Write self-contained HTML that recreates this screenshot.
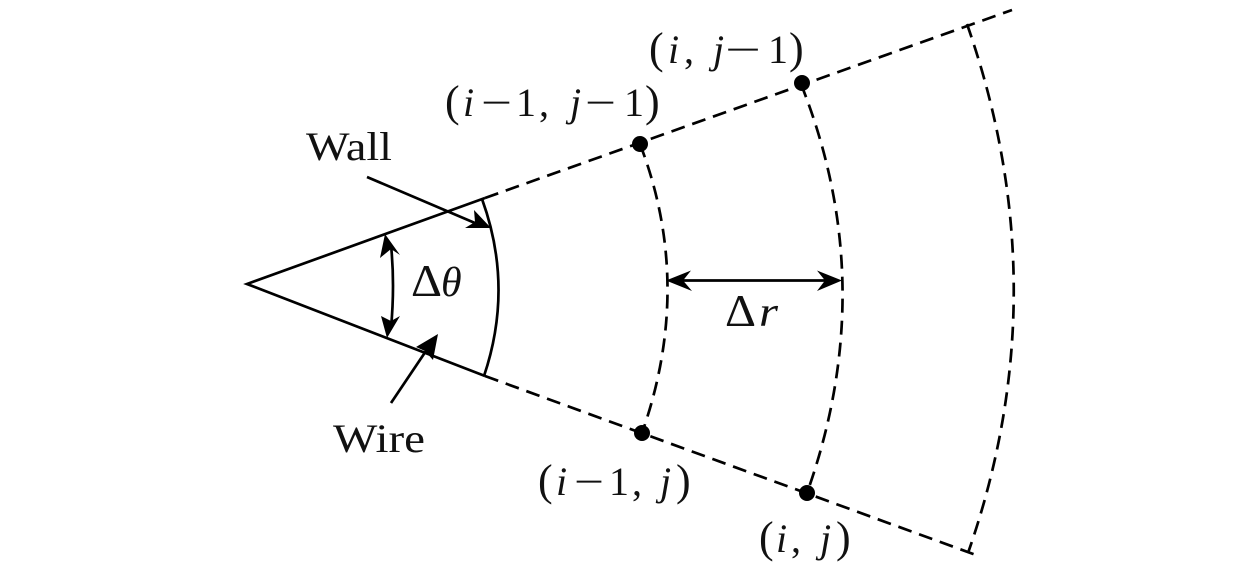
<!DOCTYPE html>
<html><head><meta charset="utf-8"><style>
html,body{margin:0;padding:0;background:#fff}
svg{display:block}
text{font-family:"Liberation Serif",serif;fill:#111;font-size:40px}
.i{font-style:italic}
.p{font-size:44px}
.d{font-size:46px}
</style></head><body>
<svg width="1260" height="567" viewBox="0 0 1260 567" xmlns="http://www.w3.org/2000/svg">
<g fill="none" stroke="#000" stroke-width="2.7">
<path d="M485 198L247 284L485 376"/>
<path d="M482 199Q514 287 484 376"/>
<path d="M367 177L482 226"/>
<path d="M391 403L430 345"/>
<path d="M391 245Q395 285 391 328"/>
<path d="M680 280.500H830"/>
</g>
<g fill="none" stroke="#000" stroke-width="2.7" stroke-dasharray="14 8">
<path d="M485 198L1012 10"/>
<path d="M485 376L976 555"/>
<path d="M640 144Q694 285 642 433"/>
<path d="M801 84Q881 285 807 493"/>
<path d="M967 24Q1060 290 968 553"/>
</g>
<g fill="#000">
<circle cx="640" cy="144" r="8"/>
<circle cx="802" cy="83" r="8"/>
<circle cx="642" cy="433" r="8"/>
<circle cx="807" cy="493" r="8"/>
<path d="M666 280.500L691 270.500L683 280.500L692 291Z"/>
<path d="M842 280.500L817 270.500L825 280.500L817 291Z"/>
<path d="M385 234L400 255L391 249L380 258Z"/>
<path d="M387 338L381 316L391 321L400 316Z"/>
<path d="M491 228L465 228L475 222L474 210Z"/>
<path d="M438 334L416 347L425 351L433 360Z"/>
</g>
<text x="306" y="160" textLength="86" lengthAdjust="spacingAndGlyphs">Wall</text>
<text x="333" y="452" textLength="92" lengthAdjust="spacingAndGlyphs">Wire</text>
<text x="411" y="296" class="d" textLength="31" lengthAdjust="spacingAndGlyphs">Δ</text>
<text x="441" y="296" class="i" style="font-size:42px">θ</text>
<text x="725" y="326" class="d" textLength="31" lengthAdjust="spacingAndGlyphs">Δ</text>
<text x="759" y="326" class="i" style="font-size:42px" textLength="19" lengthAdjust="spacingAndGlyphs">r</text>

<text x="445" y="116" class="p">(</text><text x="463" y="116" class="i">i</text><text x="481" y="116" textLength="31" lengthAdjust="spacingAndGlyphs">−</text><text x="516" y="116">1</text><text x="539" y="116">,</text><text x="570" y="116" class="i">j</text><text x="585" y="116" textLength="31" lengthAdjust="spacingAndGlyphs">−</text><text x="624" y="116">1</text><text x="645" y="116" class="p">)</text>

<text x="649" y="63" class="p">(</text><text x="668" y="63" class="i">i</text><text x="684" y="63">,</text><text x="713" y="63" class="i">j</text><text x="725" y="63" textLength="36" lengthAdjust="spacingAndGlyphs">−</text><text x="768" y="63">1</text><text x="789" y="63" class="p">)</text>

<text x="538" y="495" class="p">(</text><text x="556" y="495" class="i">i</text><text x="574" y="495" textLength="30" lengthAdjust="spacingAndGlyphs">−</text><text x="609" y="495">1</text><text x="632" y="495">,</text><text x="660" y="495" class="i">j</text><text x="676" y="495" class="p">)</text>

<text x="759" y="552" class="p">(</text><text x="776" y="552" class="i">i</text><text x="791" y="552">,</text><text x="820" y="552" class="i">j</text><text x="836" y="552" class="p">)</text>
</svg>
</body></html>
